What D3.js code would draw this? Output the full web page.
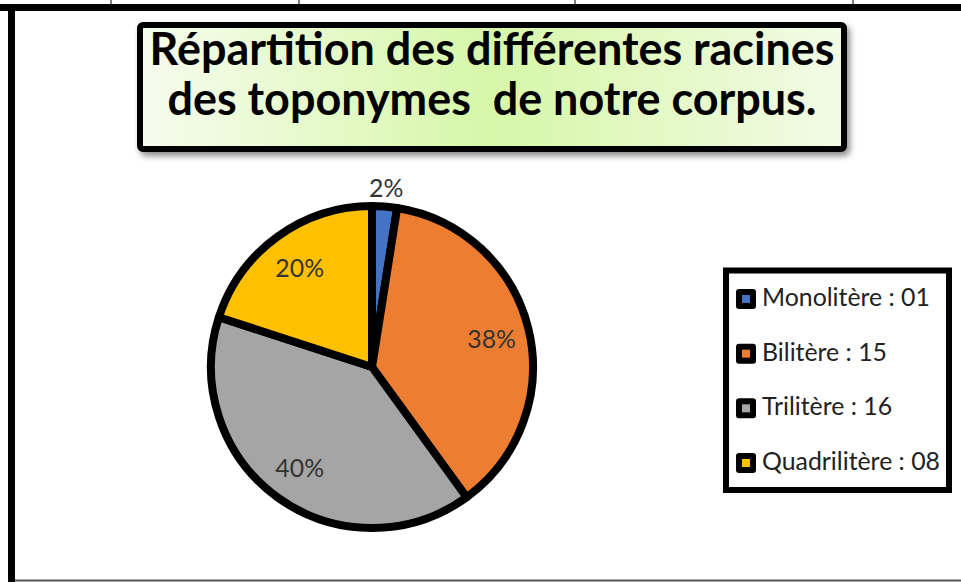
<!DOCTYPE html>
<html>
<head>
<meta charset="utf-8">
<script src="https://cdn.jsdelivr.net/npm/d3@7"></script>
<style>
  body { margin: 0; background: #fff; }
  svg { display: block; }
</style>
</head>
<body>
<div id="chart"></div>
<script>
const categories = ["Monolitère", "Bilitère", "Trilitère", "Quadrilitère"]
const counts = [1, 15, 16, 8]
const pctLabels = ["2%", "38%", "40%", "20%"]
const colors = ["#4472C4", "#ED7D31", "#A5A5A5", "#FFC000"]
const titleLines = ["Répartition des différentes racines", "des toponymes  de notre corpus."]

const width = 961
const height = 582

const svg = d3.select("#chart").append("svg")
    .attr("width", width)
    .attr("height", height)

const defs = svg.append("defs")
const grad = defs.append("linearGradient").attr("id", "titleFill")
    .attr("x1", "0%").attr("x2", "100%").attr("y1", "0%").attr("y2", "0%")
grad.append("stop").attr("offset", "0%").attr("stop-color", "#f6fcee")
grad.append("stop").attr("offset", "50%").attr("stop-color", "#d6f7a8")
grad.append("stop").attr("offset", "100%").attr("stop-color", "#f2fbe6")

const shadow = defs.append("filter").attr("id", "shadow")
    .attr("x", "-5%").attr("y", "-10%").attr("width", "115%").attr("height", "130%")
shadow.append("feDropShadow")
    .attr("dx", 3).attr("dy", 4).attr("stdDeviation", 3)
    .attr("flood-color", "#000").attr("flood-opacity", 0.45)

// page frame (table cell the chart sits in)
const frame = svg.append("g")
frame.selectAll("line.cell")
    .data([111, 299, 575, 853])
    .enter().append("line")
    .attr("x1", d => d).attr("x2", d => d)
    .attr("y1", 0).attr("y2", 5)
    .attr("stroke", "#000").attr("stroke-width", 1)
frame.append("rect").attr("x", 0).attr("y", 4).attr("width", width).attr("height", 7).attr("fill", "#000")
frame.append("rect").attr("x", 8).attr("y", 4).attr("width", 7).attr("height", height).attr("fill", "#000")
frame.append("line")
    .attr("x1", 15).attr("x2", width).attr("y1", 580.5).attr("y2", 580.5)
    .attr("stroke", "#555").attr("stroke-width", 2)

// title box
svg.append("rect")
    .attr("x", 140).attr("y", 25).attr("width", 704).attr("height", 124)
    .attr("rx", 3)
    .attr("fill", "url(#titleFill)")
    .attr("stroke", "#000").attr("stroke-width", 6)
    .attr("filter", "url(#shadow)")

const title = svg.append("g")
    .attr("font-family", "Lato, 'Open Sans', sans-serif")
    .attr("font-weight", "bold")
    .attr("fill", "#000")
    .attr("text-anchor", "middle")

const t1 = title.append("text").attr("x", 492).attr("y", 65).attr("font-size", 40).text(titleLines[0])
const fitSize = 40 * 685 / t1.node().getComputedTextLength()
t1.attr("font-size", fitSize)
title.append("text")
    .attr("x", 492).attr("y", 115).attr("font-size", fitSize)
    .attr("xml:space", "preserve")
    .style("white-space", "pre")
    .text(titleLines[1])

// pie
const cx = 372, cy = 367, radius = 161
const total = d3.sum(counts)
const pie = d3.pie().sort(null).value(d => d)
const arcs = pie(counts)
const arc = d3.arc().innerRadius(0).outerRadius(radius)
const inLabel = d3.arc().innerRadius(123).outerRadius(123)
const outLabel = d3.arc().innerRadius(181).outerRadius(181)

const pieG = svg.append("g").attr("transform", `translate(${cx},${cy})`)
pieG.selectAll("path")
    .data(arcs)
    .enter().append("path")
    .attr("d", arc)
    .attr("fill", (d, i) => colors[i])
    .attr("stroke", "#000")
    .attr("stroke-width", 8)
    .attr("stroke-linejoin", "round")

// label font size fitted on the legend text width
const probe = svg.append("text").attr("font-family", "Lato, sans-serif").attr("font-size", 26).text("Monolitère : 01")
const labelSize = 26 * 168 / probe.node().getComputedTextLength()
probe.remove()

pieG.selectAll("text")
    .data(arcs)
    .enter().append("text")
    .attr("transform", d => {
        const c = (d.value / total < 0.05 ? outLabel : inLabel).centroid(d)
        return `translate(${c[0]},${c[1]})`
    })
    .attr("text-anchor", "middle")
    .attr("dominant-baseline", "central")
    .attr("font-family", "Lato, sans-serif")
    .attr("font-size", labelSize)
    .attr("fill", "#333")
    .text((d, i) => pctLabels[i])

// legend
svg.append("rect")
    .attr("x", 726).attr("y", 270.5).attr("width", 223).attr("height", 219.5)
    .attr("fill", "#fff")
    .attr("stroke", "#000").attr("stroke-width", 6)

const ly = d3.scalePoint().domain(categories).range([299, 463])
const fmt = d3.format("02d")
const items = svg.selectAll("g.item")
    .data(categories)
    .enter().append("g")
    .attr("class", "item")
    .attr("transform", d => `translate(746,${ly(d)})`)
items.append("rect")
    .attr("x", -10).attr("y", -10).attr("width", 20).attr("height", 20)
    .attr("rx", 3).attr("fill", "#000")
items.append("rect")
    .attr("x", -4).attr("y", -4).attr("width", 8).attr("height", 8)
    .attr("fill", (d, i) => colors[i])
items.append("text")
    .attr("x", 16).attr("y", 7)
    .attr("font-family", "Lato, sans-serif")
    .attr("font-size", labelSize)
    .attr("fill", "#222")
    .text((d, i) => `${d} : ${fmt(counts[i])}`)
</script>
</body>
</html>
